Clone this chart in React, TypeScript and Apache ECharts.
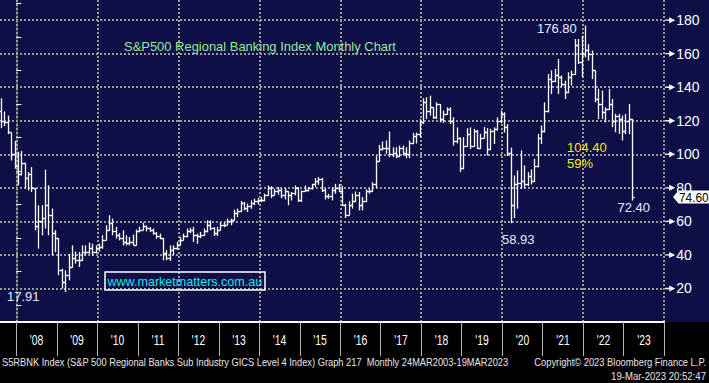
import React, { useEffect, useRef } from 'react';
import * as echarts from 'echarts';

// Monthly OHLC bars, first bar = Aug 2007 (offset -5 months from Jan 2008)
const START_OFFSET = -5;

const opens = [
  126, 120, 119, 113, 100,
  93, 88, 95, 86, 88, 80, 57, 60, 62, 70, 64, 53,
  50, 31, 24, 28, 33, 38, 37, 37, 42, 42, 44, 42,
  44, 45, 49, 55, 59, 54, 52, 50, 48, 47, 48, 46,
  54, 55, 57, 56, 55, 53, 51, 50, 41, 38, 43, 44,
  46, 49, 51, 54, 55, 52, 51, 52, 54, 58, 56, 53,
  55, 58, 58, 60, 61, 65, 66, 71, 68, 69, 71, 72,
  73, 73, 76, 80, 76, 78, 79, 76, 78, 76, 77, 80,
  73, 78, 79, 80, 82, 84, 85, 79, 75, 75, 79, 80,
  78, 70, 64, 70, 72, 76, 70, 72, 78, 78, 82, 96,
  103, 104, 104, 100, 101, 99, 104, 101, 100, 107, 111, 112,
  119, 131, 126, 128, 122, 130, 121, 124, 127, 120, 108, 110,
  92, 105, 112, 105, 114, 104, 110, 113, 103, 114, 115, 120,
  124, 116, 101, 70, 82, 83, 84, 82, 87, 84, 93, 110,
  114, 126, 145, 144, 147, 146, 142, 137, 146, 148, 165, 155,
  160, 162, 160, 150, 133, 130, 125, 127, 130, 120, 123, 121,
  114, 120, 121,
];

const highs = [
  133.4, 125.5, 123, 113, 108,
  101.5, 102, 95, 89.4, 92.3, 80, 69.6, 69.6, 90.8, 81.5, 67.6, 54.7,
  50, 31.8, 30.8, 40.7, 45.7, 42, 41.7, 45.7, 45.7, 47.3, 46.7, 45.7,
  46.7, 51.7, 57.7, 63.6, 61.6, 56.7, 53, 54.7, 51.7, 50.7, 52.1, 55.1,
  56.7, 59.3, 57.5, 56.5, 55.7, 53.7, 52.7, 50.1, 42.8, 45.7, 45.7, 47.7,
  50.7, 52.7, 55.7, 56.1, 56.7, 52.7, 53.7, 55.7, 60.6, 60.6, 56.5, 56.7,
  59.3, 59.3, 61.6, 61.6, 67, 67.6, 72.2, 71.6, 70.6, 72.5, 73.5, 74,
  74.5, 76.5, 81.4, 81, 79.4, 80.4, 79.5, 79.8, 78, 77.5, 81.4, 80.4,
  78.4, 81.4, 80.4, 82.4, 85.8, 86.4, 85.8, 79.5, 76.5, 80.4, 82.4, 82.4,
  81, 70.5, 71.9, 76.5, 77.8, 77.5, 74.5, 79, 79.4, 83.4, 98.9, 105.6,
  107.6, 108.2, 113.6, 104.2, 104.2, 105.2, 105.2, 104.2, 108.2, 112.8, 113, 121.1,
  133.4, 134, 135, 128, 131.1, 130, 126.1, 128, 128, 122.1, 116, 110,
  110.2, 115.6, 116, 115.2, 114.5, 112.2, 116.2, 115.6, 115.2, 116, 122, 126.1,
  125, 118, 104, 87.4, 90.4, 102.3, 93.3, 89.4, 91, 97.3, 112.2, 117.2,
  131, 147.9, 150, 150.9, 156.8, 147, 143.9, 148.9, 149.9, 168.7, 168.7, 170.7,
  176.8, 165.7, 161.8, 150, 139, 138, 128, 139, 133, 124.1, 124.1, 123.1,
  124.1, 130, 121.1,
];

const lows = [
  115.6, 116.8, 112, 96.3, 91.4,
  81.5, 87.4, 79.5, 78.5, 77.5, 54.7, 43.7, 51.7, 55.7, 51.7, 39.7, 41.7,
  27.9, 19.9, 17.91, 24.9, 32.5, 34.8, 32.8, 36.5, 39.7, 40.7, 39.7, 41,
  42, 43.7, 48.7, 54.5, 51.7, 49.7, 48.7, 45.7, 45.7, 45.7, 45.7, 45.7,
  53.5, 54.7, 54, 53.7, 52.1, 49.7, 49.3, 36.8, 36.8, 36.5, 40, 43,
  45.7, 48.7, 50.5, 53, 47.7, 46.7, 50, 51.3, 53.5, 54.7, 51.3, 51.3,
  54.5, 56.5, 57.7, 57.7, 60.5, 62.5, 65.5, 66.6, 65.6, 67.5, 69.6, 70,
  71.5, 71.9, 75.1, 73.9, 75.5, 75.9, 73.9, 73.1, 69.6, 72.5, 75.5, 71.5,
  71.5, 77.5, 77.8, 79, 80.4, 81.8, 77.5, 73.1, 73.5, 72.5, 76.5, 77.5,
  69.2, 62, 63.5, 67.6, 71.5, 66.6, 66.6, 71.5, 76.5, 77.5, 80, 95.5,
  102.3, 100.3, 98.3, 98.3, 97.7, 98.3, 99.3, 97.7, 97.7, 106, 106.5, 110.2,
  118, 121.1, 123.1, 121.1, 121.1, 119.1, 118.7, 123.5, 118.1, 105.2, 106.5, 89.4,
  91, 104.5, 103.2, 104.5, 103.2, 103.2, 109.5, 99.3, 102.5, 106.2, 114.2, 118.5,
  113, 99, 58.93, 62, 67.6, 79.4, 80, 81, 82, 83.5, 92.3, 106.2,
  113, 125, 136, 143, 136, 140, 133, 136.5, 141, 147.5, 153.8, 146,
  157.8, 155.8, 144.9, 131, 121, 121, 119, 126.5, 116.2, 113.2, 112.2, 108.2,
  112, 112, 72.4,
];

const closes = [
  120, 119, 113, 100, 93,
  88, 95, 86, 88, 80, 57, 60, 62, 70, 64, 53, 50,
  31, 24, 28, 33, 38, 37, 37, 42, 42, 44, 42, 44,
  45, 49, 55, 59, 54, 52, 50, 48, 47, 48, 46, 54,
  55, 57, 56, 55, 53, 51, 50, 41, 38, 43, 44, 46,
  49, 51, 54, 55, 52, 51, 52, 54, 58, 56, 53, 55,
  58, 58, 60, 61, 65, 66, 71, 68, 69, 71, 72, 73,
  73, 76, 80, 76, 78, 79, 76, 78, 76, 77, 80, 73,
  78, 79, 80, 82, 84, 85, 79, 75, 75, 79, 80, 78,
  70, 64, 70, 72, 76, 70, 72, 78, 78, 82, 96, 103,
  104, 104, 100, 101, 99, 104, 101, 100, 107, 111, 112, 119,
  131, 126, 128, 122, 130, 121, 124, 127, 120, 108, 110, 92,
  105, 112, 105, 114, 104, 110, 113, 103, 114, 115, 120, 124,
  116, 101, 70, 82, 83, 84, 82, 87, 84, 93, 110, 114,
  126, 145, 144, 147, 146, 142, 137, 146, 148, 165, 155, 160,
  162, 160, 150, 133, 130, 125, 127, 130, 120, 123, 121, 114,
  120, 121, 74.6,
];

const yearLabels = ["'08", "'09", "'10", "'11", "'12", "'13", "'14", "'15", "'16", "'17", "'18", "'19", "'20", "'21", "'22", "'23"];
const yTicks = [20, 40, 60, 80, 100, 120, 140, 160, 180];
const LAST_PRICE = 74.6;

const TITLE = 'S&P500 Regional Banking Index Monthly Chart';
const URL_TEXT = 'www.marketmatters.com.au';
const FOOTER_LEFT = 'S5RBNK Index (S&P 500 Regional Banks Sub Industry GICS Level 4 Index) Graph 217  Monthly 24MAR2003-19MAR2023';
const FOOTER_RIGHT = 'Copyright\u00A9 2023 Bloomberg Finance L.P.';
const FOOTER_TIME = '19-Mar-2023 20:52:47';

const FONT = "'Liberation Sans', Arial, sans-serif";
const NAVY = '#0f0f47';
const GRID_GRAY = '#9a9a9a';

export default function App() {
  const ref = useRef<HTMLDivElement>(null);

  useEffect(() => {
    const el = ref.current;
    if (!el) return;
    const chart = echarts.init(el, null, { renderer: 'svg' });

    const data = opens.map((o, i) => [i + START_OFFSET + 0.5, o, highs[i], lows[i], closes[i]]);

    const renderItem = (params: any, api: any) => {
      const x = api.value(0);
      const o = api.value(1);
      const h = api.value(2);
      const l = api.value(3);
      const c = api.value(4);
      const top = api.coord([x, Math.max(h, o, c)]);
      const bot = api.coord([x, Math.min(l, o, c)]);
      const po = api.coord([x, o]);
      const pc = api.coord([x, c]);
      const cx = Math.round(top[0]) + 0.5;
      const st = { stroke: '#ffffff', lineWidth: 1.3 };
      const oy = Math.round(po[1]) + 0.5;
      const cy = Math.round(pc[1]) + 0.5;
      return {
        type: 'group',
        children: [
          { type: 'line', shape: { x1: cx, y1: top[1], x2: cx, y2: bot[1] }, style: st },
          { type: 'line', shape: { x1: cx - 2.2, y1: oy, x2: cx, y2: oy }, style: st },
          { type: 'line', shape: { x1: cx, y1: cy, x2: cx + 2.2, y2: cy }, style: st },
        ],
      };
    };

    const option: any = {
      animation: false,
      backgroundColor: NAVY,
      grid: [
        { left: 0, right: 44.8, top: 0, bottom: 61, outerBoundsMode: 'none', containLabel: false },
        { left: 16.3, right: 44.8, top: 0, bottom: 61, outerBoundsMode: 'none', containLabel: false },
      ],
      xAxis: [
        {
          type: 'value', gridIndex: 0, min: -4.83, max: 192, z: 3,
          axisLine: { show: true, onZero: false, lineStyle: { color: '#ffffff', width: 2 } },
          axisTick: { show: false }, axisLabel: { show: false }, splitLine: { show: false },
        },
        {
          type: 'category', gridIndex: 1, data: yearLabels, boundaryGap: true, z: 3,
          axisLine: { show: false },
          axisTick: { show: true, interval: 0, length: 34, alignWithLabel: false, lineStyle: { color: '#b4b4b4', width: 1 } },
          axisLabel: { show: false },
          splitLine: { show: true, interval: 1, lineStyle: { color: GRID_GRAY, width: 2, type: [2, 2] } },
        },
      ],
      yAxis: [
        {
          type: 'value', gridIndex: 0, position: 'right', min: 0, max: 192, interval: 20, z: 3,
          axisLine: { show: true, lineStyle: { color: GRID_GRAY, width: 1.5, type: [2, 2] } },
          axisTick: { show: false },
          minorTick: { show: true, splitNumber: 2, length: 5, lineStyle: { color: '#ffffff', width: 1 } },
          axisLabel: {
            show: true, color: '#ffffff', fontSize: 14, fontFamily: FONT, margin: 12,
            showMinLabel: false, showMaxLabel: false,
          },
          splitLine: { show: true, showMinLine: false, showMaxLine: false, lineStyle: { color: GRID_GRAY, width: 2, type: [2, 2] } },
        },
        { type: 'value', gridIndex: 1, show: false, min: 0, max: 1 },
      ],
      series: [
        {
          type: 'custom', xAxisIndex: 0, yAxisIndex: 0, z: 4,
          data, renderItem, encode: { x: 0, y: [1, 2, 3, 4] }, silent: true,
        },
      ],
    };
    chart.setOption(option);

    // measuring helper for condensed texts
    const ctx = document.createElement('canvas').getContext('2d') as CanvasRenderingContext2D;
    const fit = (text: string, size: number, target: number) => {
      ctx.font = `${size}px 'Liberation Sans', Arial, sans-serif`;
      const w = ctx.measureText(text).width;
      return w > 0 ? target / w : 1;
    };
    const txt = (text: string, x: number, y: number, o: any) => ({
      type: 'text', x, y, z: 6, silent: true, scaleX: o.scaleX ?? 1,
      style: {
        text, fill: o.color, fontSize: o.size, fontFamily: FONT,
        align: o.align ?? 'left', verticalAlign: 'middle', fontWeight: o.weight ?? 'normal',
      },
    });

    const axisX = chart.convertToPixel({ xAxisIndex: 0 }, 192) as number;
    const priceY = chart.convertToPixel({ yAxisIndex: 0 }, LAST_PRICE) as number;

    const elements: any[] = [];
    // black footer band
    elements.push({ type: 'rect', z: 1, silent: true, shape: { x: 0, y: 322, width: 709, height: 61 }, style: { fill: '#000000' } });

    // arrows on the value axis
    yTicks.forEach((v) => {
      const y = chart.convertToPixel({ yAxisIndex: 0 }, v) as number;
      const x0 = axisX + 1;
      elements.push({
        type: 'polygon', z: 5, silent: true,
        shape: { points: [[x0, y - 0.7], [x0 + 4, y - 0.7], [x0 + 4, y - 3], [x0 + 10, y], [x0 + 4, y + 3], [x0 + 4, y + 0.7], [x0, y + 0.7]] },
        style: { fill: '#ffffff' },
      });
    });

    // year labels
    const ySc = fit("'08", 14, 13.5);
    yearLabels.forEach((lab) => {
      const x = chart.convertToPixel({ xAxisIndex: 1 }, lab) as number;
      elements.push(txt(lab, x, 340, { color: '#ffffff', size: 14, align: 'center', scaleX: ySc }));
    });

    // title
    elements.push(txt(TITLE, 124, 46, { color: '#94ec94', size: 13, scaleX: fit(TITLE, 13, 272) }));

    // website box
    elements.push({ type: 'rect', z: 6, silent: true, shape: { x: 105, y: 272, width: 160, height: 18 }, style: { fill: 'none', stroke: '#ffffff', lineWidth: 1.5 } });
    elements.push(txt(URL_TEXT, 107.5, 281.5, { color: '#1ee3f0', size: 13, scaleX: fit(URL_TEXT, 13, 155) }));

    // annotations
    const ann = '#e4eeff';
    elements.push(txt('17.91', 7, 296, { color: ann, size: 13 }));
    elements.push(txt('176.80', 537, 28.5, { color: ann, size: 13 }));
    elements.push(txt('58.93', 502, 239, { color: ann, size: 13 }));
    elements.push(txt('72.40', 617.5, 207, { color: ann, size: 13 }));
    elements.push(txt('104.40', 567, 147, { color: '#f0f000', size: 13 }));
    elements.push(txt('59%', 567, 163.3, { color: '#f0f000', size: 13 }));

    // last price tag
    elements.push({
      type: 'group', z: 7, silent: true,
      children: [
        {
          type: 'polygon', z: 7, silent: true,
          shape: { points: [[673, priceY], [678.5, priceY - 6.5], [709, priceY - 6.5], [709, priceY + 6.5], [678.5, priceY + 6.5]] },
          style: { fill: '#ffffff' },
        },
        {
          type: 'text', z: 8, silent: true, x: 679, y: priceY + 0.5,
          scaleX: fit('74.60', 13, 29.5),
          style: { text: LAST_PRICE.toFixed(2), fill: '#000000', fontSize: 13, fontFamily: FONT, align: 'left', verticalAlign: 'middle' },
        },
      ],
    });

    // footer
    elements.push(txt(FOOTER_LEFT, 2, 362, { color: '#e6e6e6', size: 11, scaleX: fit(FOOTER_LEFT, 11, 507) }));
    elements.push(txt(FOOTER_RIGHT, 706, 362, { color: '#e6e6e6', size: 11, align: 'right', scaleX: fit(FOOTER_RIGHT, 11, 172) }));
    elements.push(txt(FOOTER_TIME, 706, 376, { color: '#e6e6e6', size: 11, align: 'right', scaleX: fit(FOOTER_TIME, 11, 95) }));

    chart.setOption({ graphic: { elements } });

    return () => chart.dispose();
  }, []);

  return <div ref={ref} style={{ position: 'absolute', left: 0, top: 0, width: 709, height: 383 }} />;
}
